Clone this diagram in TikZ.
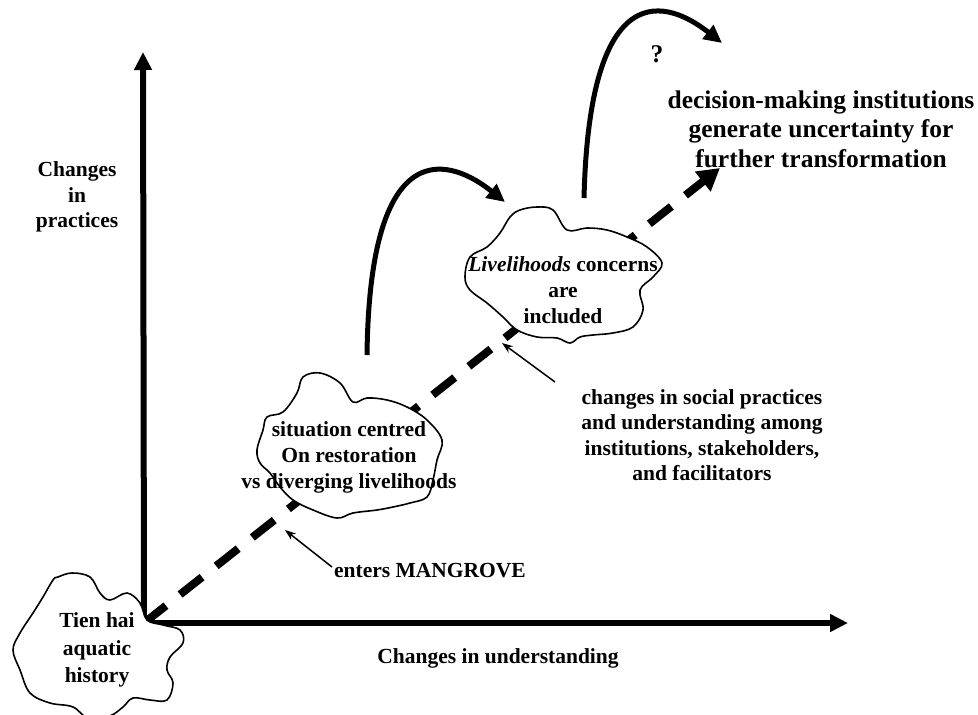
\documentclass[tikz,border=0pt]{standalone}
\usepackage{fontspec}
\setmainfont{Liberation Serif}
\usetikzlibrary{arrows.meta}
\tikzset{
  axisline/.style={line width=6pt, -{Triangle[length=18pt,width=17pt]}},
  pathline/.style={line width=8pt, dash pattern=on 28pt off 18pt, -{Triangle[length=22pt,width=24pt]}},
  jumpline/.style={line width=5pt, -{Triangle[length=18pt,width=17pt]}},
  pointer/.style={line width=1.5pt, -{Stealth[length=11pt,width=8pt]}},
  cloudline/.style={line width=1.6pt, fill=white, line join=round},
  txt/.style={font=\bfseries\fontsize{21.5}{26}\selectfont, align=center, inner sep=0pt},
  bigtxt/.style={font=\bfseries\fontsize{25.5}{29.5}\selectfont, align=center, inner sep=0pt}
}
\begin{document}
\begin{tikzpicture}[x=1pt,y=-1pt]
\useasboundingbox (0,0) rectangle (978,715);
% axes
\coordinate (O) at (144,623);
\coordinate (ytip) at (143,52);
\coordinate (xtip) at (848,623);
\draw[axisline] ([yshift=3pt]O) -- (ytip);
\draw[axisline] ([xshift=-3pt]O) -- (xtip);
% dashed development path
\coordinate (ptip) at (720,168);
\draw[pathline] (O) -- (ptip);
% clouds
\draw[cloudline] plot[smooth cycle, tension=0.6] coordinates {
 (58,577) (72,573) (90,577) (100,593) (110,600) (127,593) (140,603) (147,620)
 (163,625) (180,630) (183,643) (170,657) (167,670) (173,683) (167,700) (150,700)
 (133,698) (123,707) (110,716) (90,720) (73,707) (50,703) (30,693) (20,670)
 (13,650) (20,633) (33,613) (43,597) (53,580)};
\draw[cloudline] plot[smooth cycle, tension=0.6] coordinates {
 (303,377) (320,373) (340,383) (353,402) (367,398) (387,400) (407,407) (427,420)
 (442,440) (437,460) (433,480) (427,497) (410,503) (393,507) (377,510) (353,513)
 (337,518) (313,510) (293,500) (280,487) (270,473) (260,463) (257,450) (263,430)
 (267,417) (283,412) (297,393)};
\draw[cloudline] plot[smooth cycle, tension=0.6] coordinates {
 (520,210) (537,207) (553,210) (567,230) (587,228) (607,230) (627,237) (647,247)
 (662,263) (653,277) (640,290) (643,310) (633,327) (613,333) (593,335) (580,337)
 (570,343) (557,338) (537,337) (517,330) (503,317) (487,303) (470,290) (465,277)
 (470,257) (487,247) (500,233) (510,217)};
% cloud texts
\node[txt, font=\bfseries\fontsize{21.5}{27.5}\selectfont] (tien) at (97,650) {Tien hai\\aquatic\\history};
\node[txt] (sit) at (349,457) {situation centred\\On restoration\\vs diverging livelihoods};
\node[txt] (liv) at (563,290) {\textit{Livelihoods} concerns\\are\\included};
% axis labels
\node[txt, font=\bfseries\fontsize{21.5}{25.5}\selectfont] (ylab) at (77,197) {Changes\\in\\practices};
\node[txt] (xlab) at (498,658) {Changes in understanding};
% other labels
\node[txt, font=\bfseries\fontsize{21.5}{25.5}\selectfont] (social) at (702,435) {changes in social practices\\and understanding among\\institutions, stakeholders,\\and facilitators};
\node[txt] (enters) at (430,571) {enters MANGROVE};
\node[bigtxt] (decision) at (821,129) {decision-making institutions\\generate uncertainty for\\further transformation};
\node[bigtxt] (q) at (657,54) {?};
% curved jumps
\coordinate (j1s) at (367,355);
\coordinate (j1e) at (505,202);
\coordinate (j2s) at (584,198);
\coordinate (j2e) at (722,43);
\draw[jumpline] (j1s) .. controls (370,110) and (465,170) .. (j1e);
\draw[jumpline] (j2s) .. controls (590,-45) and (680,10) .. (j2e);
% pointers
\coordinate (p1s) at (555,382);
\coordinate (p1e) at (502,343);
\coordinate (p2s) at (332,567);
\coordinate (p2e) at (285,530);
\draw[pointer] (p1s) -- (p1e);
\draw[pointer] (p2s) -- (p2e);
\end{tikzpicture}
\end{document}
